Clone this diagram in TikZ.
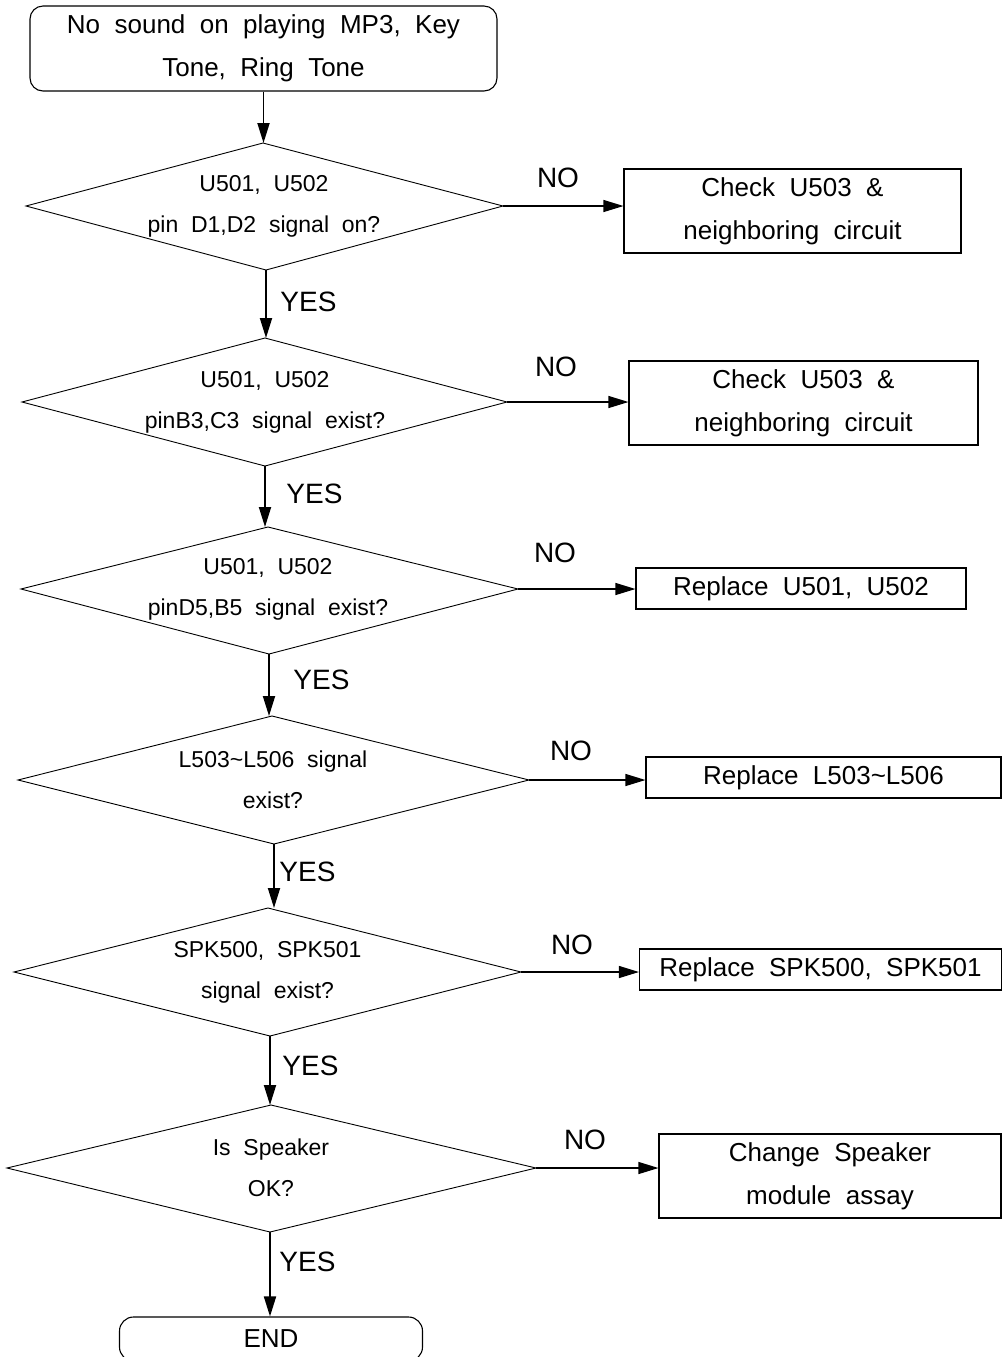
\documentclass[tikz,border=0pt]{standalone}
\usepackage{fontspec}
\setmainfont[WordSpace=2]{Liberation Sans}
\usetikzlibrary{arrows.meta}
\begin{document}
\begin{tikzpicture}[x=0.5pt,y=-0.5pt,
  dtext/.style={inner sep=0pt, align=center, font=\fontsize{11.5}{20.5}\selectfont},
  dline/.style={draw, line width=0.45pt, line join=miter},
  pbox/.style={rectangle, draw, line width=0.55pt, inner sep=0pt, align=center,
    font=\fontsize{13}{21.5}\selectfont},
  term/.style={pbox, rounded corners=6.5pt},
  lab/.style={font=\fontsize{14}{16}\selectfont, inner sep=0pt},
  vflow/.style={line width=0.9pt, -{Triangle[length=10pt,width=6pt]}},
  hflow/.style={line width=0.6pt, -{Triangle[length=10pt,width=6pt]}}]
\useasboundingbox (0,0) rectangle (1003,1357);
\clip (0,0) rectangle (1003,1357);

\node[term, minimum width=233.5pt, minimum height=42.5pt] (start) at (263.5,48.5)
  {No sound on playing MP3, Key\\Tone, Ring Tone};

% decision 1
\coordinate (d1n) at (263,143); \coordinate (d1e) at (503,206);
\coordinate (d1s) at (266,270); \coordinate (d1w) at (26,206);
\draw[dline] (d1n) -- (d1e) -- (d1s) -- (d1w) -- cycle;
\node[dtext] (d1) at (264,206.5) {U501, U502\\pin D1,D2 signal on?};
% decision 2
\coordinate (d2n) at (265,338); \coordinate (d2e) at (507,402);
\coordinate (d2s) at (265,466); \coordinate (d2w) at (22,402);
\draw[dline] (d2n) -- (d2e) -- (d2s) -- (d2w) -- cycle;
\node[dtext] (d2) at (265,402) {U501, U502\\pinB3,C3 signal exist?};
% decision 3
\coordinate (d3n) at (268,527); \coordinate (d3e) at (518,589);
\coordinate (d3s) at (269,654); \coordinate (d3w) at (21,589);
\draw[dline] (d3n) -- (d3e) -- (d3s) -- (d3w) -- cycle;
\node[dtext] (d3) at (268,589.5) {U501, U502\\pinD5,B5 signal exist?};
% decision 4
\coordinate (d4n) at (272,716); \coordinate (d4e) at (529,780);
\coordinate (d4s) at (274,844); \coordinate (d4w) at (18,780);
\draw[dline] (d4n) -- (d4e) -- (d4s) -- (d4w) -- cycle;
\node[dtext] (d4) at (273,779.5) {L503\textasciitilde L506 signal\\exist?};
% decision 5
\coordinate (d5n) at (268,908); \coordinate (d5e) at (521,972);
\coordinate (d5s) at (270,1036); \coordinate (d5w) at (14,972);
\draw[dline] (d5n) -- (d5e) -- (d5s) -- (d5w) -- cycle;
\node[dtext] (d5) at (267.5,972) {SPK500, SPK501\\signal exist?};
% decision 6
\coordinate (d6n) at (271,1105); \coordinate (d6e) at (536,1168);
\coordinate (d6s) at (270,1232); \coordinate (d6w) at (7,1168);
\draw[dline] (d6n) -- (d6e) -- (d6s) -- (d6w) -- cycle;
\node[dtext] (d6) at (271,1167.5) {Is Speaker\\OK?};

\node[pbox, minimum width=168.5pt, minimum height=42pt] (b1) at (792.5,211)
  {Check U503 \&\\neighboring circuit};
\node[pbox, minimum width=174.5pt, minimum height=42pt] (b2) at (803.5,403)
  {Check U503 \&\\neighboring circuit};
\node[pbox, minimum width=165pt, minimum height=20.5pt] (b3) at (801,588.5)
  {Replace U501, U502};
\node[pbox, minimum width=177.5pt, minimum height=20.5pt] (b4) at (823.5,777.5)
  {Replace L503\textasciitilde L506};
\node[pbox, minimum width=181pt, minimum height=20.5pt] (b5) at (820.5,969.5)
  {Replace SPK500, SPK501};
\node[pbox, minimum width=171pt, minimum height=42pt] (b6) at (830,1176)
  {Change Speaker\\module assay};

\node[term, minimum width=151.5pt, minimum height=22pt, rounded corners=7pt] (end) at (271,1339)
  {END};

% vertical flow
\draw[vflow] (start.south) -- (start.south |- d1n);
\draw[vflow] (d1s) -- (d1s |- d2n);
\draw[vflow] (d2s) -- (d2s |- d3n);
\draw[vflow] (d3s) -- (d3s |- d4n);
\draw[vflow] (d4s) -- (d4s |- d5n);
\draw[vflow] (d5s) -- (d5s |- d6n);
\draw[vflow] (d6s) -- (d6s |- end.north);

% NO branches
\draw[hflow] (d1e) -- (d1e -| b1.west);
\draw[hflow] (d2e) -- (d2e -| b2.west);
\draw[hflow] (d3e) -- (d3e -| b3.west);
\draw[hflow] (d4e) -- (d4e -| b4.west);
\draw[hflow] (d5e) -- (d5e -| b5.west);
\draw[hflow] (d6e) -- (d6e -| b6.west);

\node[lab] (no1) at (558,178) {NO};
\node[lab] (no2) at (556,367) {NO};
\node[lab] (no3) at (555,553) {NO};
\node[lab] (no4) at (571,751) {NO};
\node[lab] (no5) at (572,945) {NO};
\node[lab] (no6) at (585,1140) {NO};

\node[lab, anchor=west] (y1) at (280,302) {YES};
\node[lab, anchor=west] (y2) at (286,494) {YES};
\node[lab, anchor=west] (y3) at (293,680) {YES};
\node[lab, anchor=west] (y4) at (279,872) {YES};
\node[lab, anchor=west] (y5) at (282,1066) {YES};
\node[lab, anchor=west] (y6) at (279,1262) {YES};
\end{tikzpicture}
\end{document}
